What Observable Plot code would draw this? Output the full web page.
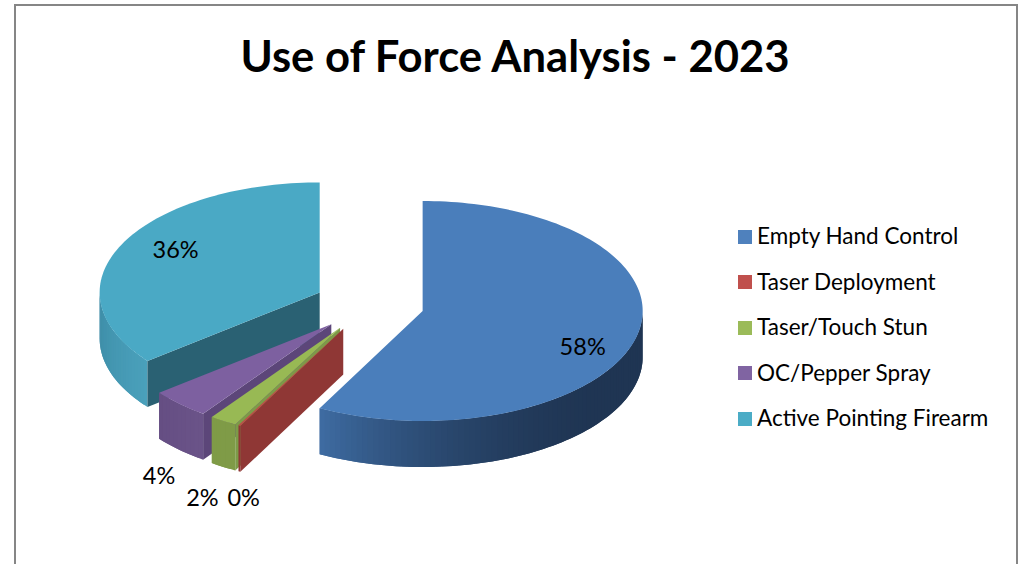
<!DOCTYPE html>
<html>
<head>
<meta charset="utf-8">
<script src="https://cdn.jsdelivr.net/npm/d3@7"></script>
<script src="https://cdn.jsdelivr.net/npm/@observablehq/plot@0.6"></script>
<style>
  html, body { margin: 0; padding: 0; background: #fff; }
  #root { position: relative; width: 1019px; height: 564px; overflow: hidden; font-family: Lato, "Open Sans", sans-serif; color: #000; }
  #frame { position: absolute; left: 14px; top: 4px; width: 1000px; height: 600px; border: 2px solid #868686; box-sizing: content-box; }
  h1 { position: absolute; left: 0; top: 27px; width: 1030px; margin: 0; text-align: center; font-size: 43.6px; line-height: 56px; font-weight: 700; }
  #chart { position: absolute; left: 0; top: 110px; }
  #chart svg { display: block; background: transparent; }
  #legend { position: absolute; left: 738px; top: 213px; }
  .row { display: flex; align-items: center; height: 45.5px; font-size: 22.5px; white-space: nowrap; }
  .sw { width: 14px; height: 14px; margin-right: 5px; flex: none; position: relative; top: 1px; }
</style>
</head>
<body>
<div id="root">
  <div id="frame"></div>
  <h1 id="title"></h1>
  <div id="chart"></div>
  <div id="legend"></div>
</div>
<script>
// Data
const title = "Use of Force Analysis - 2023";
const categories = ["Empty Hand Control", "Taser Deployment", "Taser/Touch Stun", "OC/Pepper Spray", "Active Pointing Firearm"];
const shares = [57.75, 0.15, 2.0, 4.4, 35.7];

// Styles
const legendColors = ["#4f81bd", "#c0504d", "#9bbb59", "#8064a2", "#4bacc6"];
const topColors  = ["#4a7ebb", "#be4b48", "#98b954", "#7d60a0", "#4aa9c5"];
const cutColors  = ["#2c4d75", "#8f3735", "#7d9a48", "#5c4679", "#2a6173"];
const wallNear   = ["#1f3553", "#8f3735", "#7f9b47", "#6a5388", "#4aa0bb"];
const wallFar    = ["#3f6da4", "#8f3735", "#7f9b47", "#654e83", "#3c8ba5"];
// Label anchors, relative to the slice apex, in pie-radius units
const labelShift = [[0.725, -0.327], [-0.455, -1.54], [-0.628, -1.549], [-0.785, -1.376], [-0.657, 0.387]];

// 3-D pie layout, in pie-radius units
const explode = 0.25, depth = 0.418, stepDeg = 1.5;
const rad = d => d * Math.PI / 180;

let cum = 0;
const slices = shares.map((v, i) => {
  const start = cum / 100 * 360; cum += v;
  const end = cum / 100 * 360, mid = (start + end) / 2;
  return {i, v, name: categories[i], start, end,
          ax: explode * Math.sin(rad(mid)), ay: explode * Math.cos(rad(mid))};
});

const rows = [];
const rim = (s, a) => [s.ax + Math.sin(rad(a)), s.ay + Math.cos(rad(a))];
const angles = (a, b) => { const n = Math.max(1, Math.ceil((b - a) / stepDeg)); return d3.range(n + 1).map(k => a + (b - a) * k / n); };

for (const s of [4, 3, 2, 1, 0].map(i => slices[i])) {
  // outer wall, the part that faces the viewer
  const a0 = Math.max(s.start, 90), a1 = Math.min(s.end, 270);
  if (a1 > a0) {
    const as = angles(a0, a1);
    const mix = d3.interpolateRgb(wallNear[s.i], wallFar[s.i]);
    // Each strip overlaps its neighbour to hide the seam
    d3.range(as.length - 1).forEach(k => {
      const a = as[k];
      const raw = s.i === 0 ? Math.min(1, Math.max(0, (a - 125) / (a1 - 125))) : (a - a0) / (a1 - a0);
      const f = s.i === 0 ? raw * raw : raw;
      const c = mix(f);
      const endAngle = as[Math.min(k + 2, as.length - 1)];
      for (const b of [a, as[k + 1], endAngle]) {
        const [x, y] = rim(s, b);
        rows.push({z: `w${s.i}-${k}`, x1: x, y1: y, x2: x, y2: y - depth, fill: c});
      }
    });
  }
  // radial cut face at the slice's start
  if (Math.sin(rad(s.start)) < -1e-6) {
    const [x, y] = rim(s, s.start);
    for (const [px, py] of [[s.ax, s.ay], [x, y]])
      rows.push({z: `c${s.i}`, x1: px, y1: py, x2: px, y2: py - depth, fill: cutColors[s.i]});
  }
  // top face
  for (const a of angles(s.start, s.end)) {
    const [x, y] = rim(s, a);
    rows.push({z: `t${s.i}`, x1: s.ax, y1: s.ay, x2: x, y2: y, fill: topColors[s.i]});
  }
}

const labels = slices.map(s => ({
  x: s.ax + labelShift[s.i][0],
  y: s.ay + labelShift[s.i][1],
  text: `${Math.round(s.v)}%`
}));

const plot = Plot.plot({
  width: 720, height: 454,
  marginTop: 0, marginRight: 0, marginBottom: 0, marginLeft: 0,
  x: {domain: [-1.678, 1.594], axis: null},
  y: {domain: [-2.36, 1.767], axis: null},
  color: {type: "identity"},
  marks: [
    Plot.area(rows, {x1: "x1", y1: "y1", x2: "x2", y2: "y2", z: "z", fill: "fill", curve: "linear"}),
    Plot.text(labels, {x: "x", y: "y", text: "text", fontSize: 23.5, fill: "#000", fontFamily: "Lato, sans-serif", textAnchor: "middle"})
  ]
});
document.getElementById("chart").append(plot);
document.getElementById("title").textContent = title;

const legend = document.getElementById("legend");
categories.forEach((c, i) => {
  const row = document.createElement("div"); row.className = "row";
  const sw = document.createElement("span"); sw.className = "sw"; sw.style.background = legendColors[i];
  const t = document.createElement("span"); t.textContent = c;
  row.append(sw, t); legend.append(row);
});
</script>
</body>
</html>
